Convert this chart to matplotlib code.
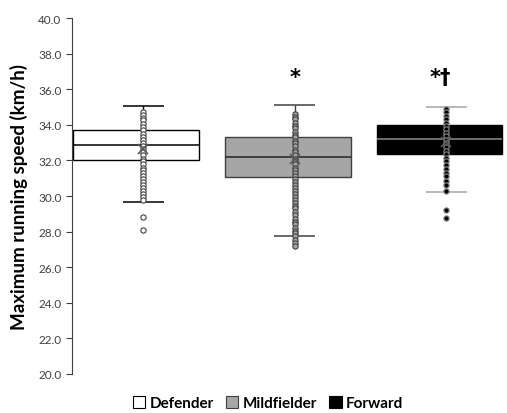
import numpy as np
import matplotlib
matplotlib.use("Agg")
import matplotlib.pyplot as plt
from matplotlib.patches import Patch

plt.rcParams['font.family'] = ['Lato', 'DejaVu Sans']

groups = ["Defender", "Mildfielder", "Forward"]

# box statistics
q1 = [32.0, 31.05, 32.36]
median = [32.85, 32.17, 33.2]
q3 = [33.7, 33.3, 33.99]
whisk_lo = [29.65, 27.75, 30.2]
whisk_hi = [35.05, 35.13, 35.0]
means = [32.64, 32.08, 33.03]

# individual players
defender = [34.7, 34.55, 34.4, 34.25, 34.05, 33.9, 33.7, 33.5, 33.3, 33.15,
            32.95, 32.8, 32.65, 32.45, 32.3, 32.1, 31.95, 31.8, 31.6, 31.45,
            31.3, 31.1, 30.95, 30.8, 30.6, 30.45, 30.3, 30.1, 29.95, 29.75,
            28.8, 28.1]
mildfielder = [34.6, 34.45, 34.3, 34.1, 33.95, 33.8, 33.6, 33.45, 33.3, 33.1,
               32.95, 32.8, 32.6, 32.45, 32.3, 32.1, 31.95, 31.8, 31.6, 31.45,
               31.3, 31.1, 30.95, 30.8, 30.6, 30.45, 30.3, 30.1, 29.95, 29.8,
               29.6, 29.45, 29.3, 29.1, 28.95, 28.7, 28.55, 28.4, 28.2, 28.05,
               27.9, 27.75, 27.55, 27.35, 27.2]
forward = [34.9, 34.7, 34.5, 34.3, 34.1, 33.95, 33.75, 33.55, 33.35, 33.15,
           32.95, 32.75, 32.55, 32.35, 32.15, 31.95, 31.75, 31.5, 31.3, 31.1,
           30.85, 30.6, 30.3, 29.23, 28.78]
players = [defender, mildfielder, forward]

box_face = ["white", "#a6a6a6", "black"]
box_edge = ["black", "#404040", "black"]
med_color = ["black", "#262626", "#8c8c8c"]
whisk_color = ["black", "#404040", "#a6a6a6"]
dot_face = ["white", "#a6a6a6", "black"]
dot_edge = ["#404040", "#404040", "#8c8c8c"]
signif = ["", "*", "*\u2020"]

fig = plt.figure(figsize=(5.07, 4.14), dpi=100)
ax = fig.add_axes([72 / 507, 39 / 414, 435 / 507, 356 / 414])

pos = np.arange(len(groups))
left = pos - 0.46
width = 0.83
cap = 0.135

for i in range(len(groups)):
    ax.bar(left[i], q3[i] - q1[i], width=width, bottom=q1[i], align='edge',
           color=box_face[i], edgecolor=box_edge[i], linewidth=1.0, zorder=2)
    ax.hlines(median[i], left[i], left[i] + width, color=med_color[i],
              linewidth=1.1, zorder=3)
    ax.vlines(pos[i], whisk_lo[i], q1[i], color=whisk_color[i], linewidth=1.0, zorder=1)
    ax.vlines(pos[i], q3[i], whisk_hi[i], color=whisk_color[i], linewidth=1.0, zorder=1)
    ax.hlines([whisk_lo[i], whisk_hi[i]], pos[i] - cap, pos[i] + cap,
              color=whisk_color[i], linewidth=1.1, zorder=1)
    ax.plot(np.full(len(players[i]), pos[i]), players[i], 'o', ms=3.8,
            mfc=dot_face[i], mec=dot_edge[i], mew=0.8, zorder=4)
    ax.plot(pos[i], means[i], 'x', ms=7, mew=1.2, color="#595959", zorder=5)
    if signif[i]:
        ax.text(pos[i] - 0.04 * (len(signif[i]) - 1), 36.7, signif[i], ha='center',
                va='center', fontsize=15, fontweight='bold', color='black',
                family='DejaVu Sans')

ax.set_xlim(-0.469, 2.40)
ax.set_ylim(20, 40)
ax.set_yticks(np.arange(20, 41, 2))
ax.set_yticklabels([f"{v:.1f}" for v in np.arange(20, 41, 2)], fontsize=8.5, color="#404040")
ax.set_xticks([])
ax.tick_params(axis='y', direction='out', length=4, width=0.8, color="#404040")
for s in ['top', 'right', 'bottom']:
    ax.spines[s].set_visible(False)
ax.spines['left'].set_color("#404040")
ax.spines['left'].set_linewidth(0.8)
ax.set_ylabel("Maximum running speed (km/h)", fontsize=13.5, fontweight='bold', labelpad=7)

handles = [Patch(facecolor=box_face[i], edgecolor='black' if i != 1 else '#404040',
                 linewidth=0.8, label=groups[i]) for i in range(len(groups))]
fig.legend(handles=handles, loc='center', bbox_to_anchor=(268 / 507, 1 - 404 / 414),
           ncol=3, frameon=False, prop={'weight': 'bold', 'size': 11},
           handlelength=0.8, handleheight=0.8, handletextpad=0.3, columnspacing=0.8)

fig.savefig("out.png", dpi=100)
